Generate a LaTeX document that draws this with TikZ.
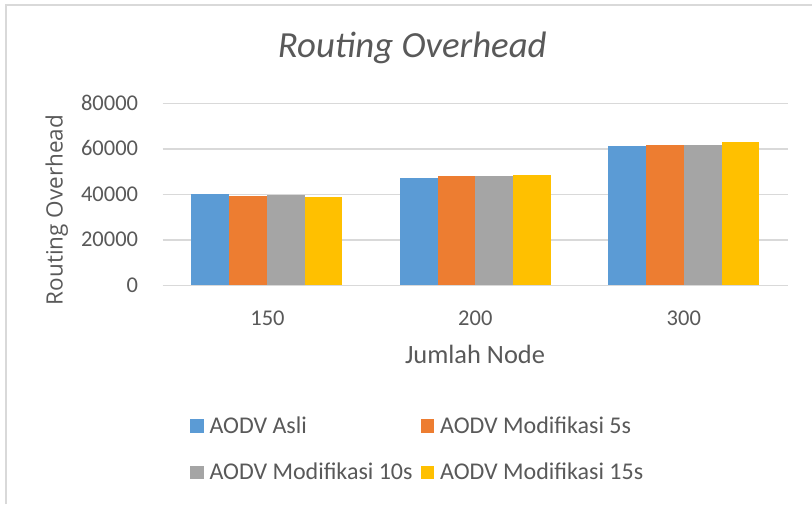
\documentclass[tikz,border=0pt]{standalone}
\usepackage{fontspec}
\setmainfont{Carlito}
\newfontfamily\axisfont{Open Sans}
\definecolor{txt}{HTML}{595959}
\definecolor{gridc}{HTML}{D9D9D9}
\definecolor{cA}{HTML}{5B9BD5}
\definecolor{cB}{HTML}{ED7D31}
\definecolor{cC}{HTML}{A5A5A5}
\definecolor{cD}{HTML}{FFC000}
\newcommand\chartbar[4]{%
  \fill[#4] ({191.4+208.44*#1+37.75*#2},285.3) rectangle ({191.4+208.44*#1+37.75*(#2+1)},{285.3-#3*45.5/20});}
\begin{document}
\begin{tikzpicture}[x=1pt,y=-1pt,
  lbl/.style={text=txt, inner sep=0pt, font=\fontsize{22.5}{27}\selectfont},
  leg/.style={text=txt, inner sep=0pt, font=\fontsize{24}{28}\selectfont},
  ttl/.style={text=txt, inner sep=0pt, font=\fontsize{36.8}{40}\selectfont\itshape},
  axttl/.style={text=txt, inner sep=0pt, font=\fontsize{26.4}{30}\selectfont},
  yttl/.style={text=txt, inner sep=0pt, font=\fontsize{22.5}{26}\selectfont\axisfont},
  gridline/.style={draw=gridc, line width=1.5pt},
  legsq/.style={inner sep=0pt, minimum width=13.5pt, minimum height=13.5pt},
]
\useasboundingbox (0,0) rectangle (812,504);
\fill[white] (0,0) rectangle (812,504);
\draw[gridc, line width=2pt] (6,504) -- (6,5) -- (812,5);
% title
\node[ttl, anchor=base] (title) at (412.3,57.3) {Routing Overhead};
% gridlines and tick labels
\foreach \v/\lab in {0/0,20/20000,40/40000,60/60000,80/80000}{
  \draw[gridline] (162.7,{285.3-\v*45.5/20}) -- (788,{285.3-\v*45.5/20});
  \node[lbl, anchor=base east] (tick\lab) at (138.3,{285.3-\v*45.5/20+6.9}) {\lab};
}
% bars
\chartbar{0}{0}{40.0}{cA}
\chartbar{0}{1}{39.2}{cB}
\chartbar{0}{2}{39.7}{cC}
\chartbar{0}{3}{38.9}{cD}
\chartbar{1}{0}{47.0}{cA}
\chartbar{1}{1}{47.9}{cB}
\chartbar{1}{2}{48.2}{cC}
\chartbar{1}{3}{48.5}{cD}
\chartbar{2}{0}{61.2}{cA}
\chartbar{2}{1}{61.7}{cB}
\chartbar{2}{2}{61.8}{cC}
\chartbar{2}{3}{63.1}{cD}
% category labels
\node[lbl, anchor=base] (c150) at (267.5,325) {150};
\node[lbl, anchor=base] (c200) at (475.3,325) {200};
\node[lbl, anchor=base] (c300) at (683.8,325) {300};
% axis titles
\node[axttl, anchor=base] (xtitle) at (475,363) {Jumlah Node};
\node[yttl, anchor=base, rotate=90] (ytitle) at (62.7,210) {Routing Overhead};
% legend
\node[legsq, fill=cA, anchor=north west] (lgA) at (190,419) {};
\node[leg, anchor=base west] (lgAt) at (209.3,433.3) {AODV Asli};
\node[legsq, fill=cB, anchor=north west] (lgB) at (420.7,419) {};
\node[leg, anchor=base west] (lgBt) at (440,433.3) {AODV Modifikasi 5s};
\node[legsq, fill=cC, anchor=north west] (lgC) at (190,465.7) {};
\node[leg, anchor=base west] (lgCt) at (209.3,479) {AODV Modifikasi 10s};
\node[legsq, fill=cD, anchor=north west] (lgD) at (420.7,465.7) {};
\node[leg, anchor=base west] (lgDt) at (440,479) {AODV Modifikasi 15s};
\end{tikzpicture}
\end{document}
